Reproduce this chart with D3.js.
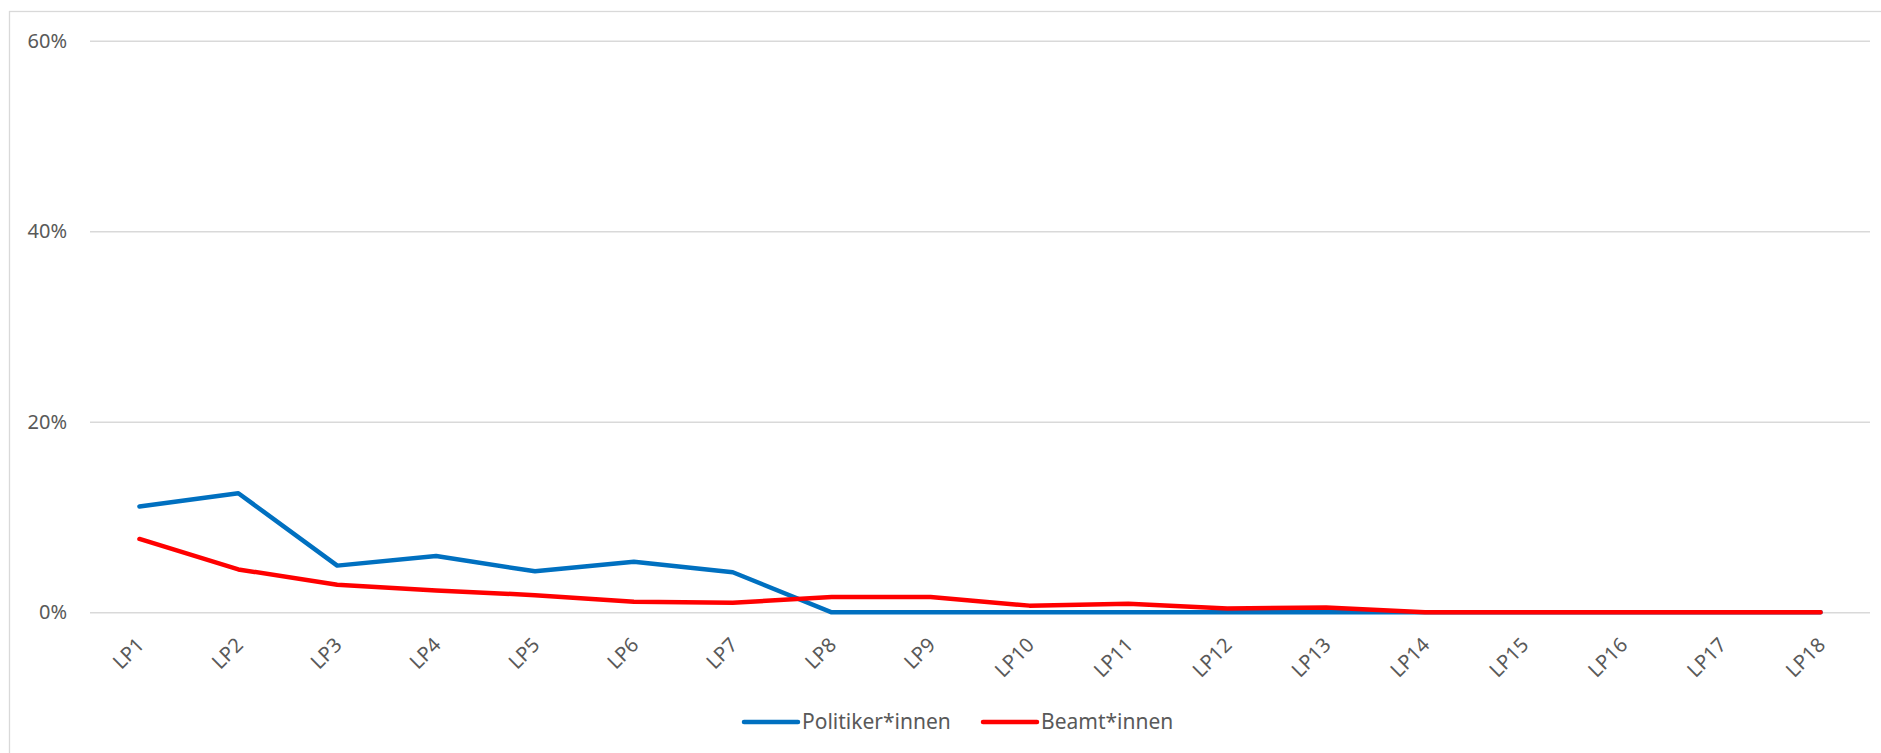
<!DOCTYPE html>
<html>
<head>
<meta charset="utf-8">
<script src="https://cdn.jsdelivr.net/npm/d3@7"></script>
<style>
  body { margin: 0; background: #ffffff; }
  text { font-family: "Noto Sans", "Open Sans", sans-serif; fill: #595959; }
</style>
</head>
<body>
<div id="chart"></div>
<script>
// categories (legislative periods)
var periods = ["LP1", "LP2", "LP3", "LP4", "LP5", "LP6", "LP7", "LP8", "LP9",
  "LP10", "LP11", "LP12", "LP13", "LP14", "LP15", "LP16", "LP17", "LP18"];

// share per period
var politiker = [0.111, 0.125, 0.049, 0.059, 0.043, 0.053, 0.042, 0, 0,
  0, 0, 0, 0, 0, 0, 0, 0, 0];
var beamt = [0.077, 0.045, 0.029, 0.023, 0.018, 0.011, 0.010, 0.016, 0.016,
  0.007, 0.009, 0.004, 0.005, 0, 0, 0, 0, 0];

var yTicks = [0, 0.2, 0.4, 0.6];
var seriesNames = ["Politiker*innen", "Beamt*innen"];
var seriesColors = ["#0070c0", "#ff0000"];

(function() {
  var width = 1881, height = 753
  var left = 90, right = 1870, top = 40.7, bottom = 612.3

  var svg = d3.select("#chart")
    .append("svg")
    .attr("width", width)
    .attr("height", height)

  // chart area border (only left and top edges visible)
  svg.append("rect")
    .attr("x", 9.5)
    .attr("y", 11.5)
    .attr("width", 1900)
    .attr("height", 800)
    .attr("fill", "none")
    .attr("stroke", "#d9d9d9")
    .attr("stroke-width", 1.3)

  var xPositionScale = d3.scaleBand()
    .domain(periods)
    .range([left, right])

  var yPositionScale = d3.scaleLinear()
    .domain([0, 0.6])
    .range([bottom, top])

  function xMid(d) {
    return xPositionScale(d) + xPositionScale.bandwidth() / 2
  }

  /* gridlines + y labels */
  var yAxis = d3.axisLeft(yPositionScale)
    .tickValues(yTicks)
    .tickFormat(d3.format(".0%"))
    .tickSize(-(right - left))
    .tickPadding(23)

  var yg = svg.append("g")
    .attr("class", "axis y-axis")
    .attr("transform", "translate(" + left + ",0)")
    .call(yAxis)
  yg.select(".domain").remove()
  yg.selectAll("line")
    .attr("stroke", "#d9d9d9")
    .attr("stroke-width", 1.5)
  yg.selectAll("text")
    .attr("font-size", 20)
    .style("fill", "#595959")

  /* x labels, rotated */
  var xAxis = d3.axisBottom(xPositionScale).tickSize(0)
  var xg = svg.append("g")
    .attr("class", "axis x-axis")
    .attr("transform", "translate(0," + bottom + ")")
    .call(xAxis)
  xg.select(".domain").remove()
  xg.selectAll("text")
    .attr("font-size", 20)
    .style("fill", "#595959")
    .attr("text-anchor", "end")
    .attr("x", 0)
    .attr("y", 0)
    .attr("dy", "0.35em")
    .attr("transform", "translate(1,29) rotate(-45)")

  /* lines */
  var series = [politiker, beamt]
  var line = d3.line()
    .x(function(d, i) { return xMid(periods[i]) })
    .y(function(d) { return yPositionScale(d) })

  svg.selectAll(".series")
    .data(series)
    .enter().append("path")
    .attr("class", "series")
    .attr("d", function(d) { return line(d) })
    .attr("fill", "none")
    .attr("stroke", function(d, i) { return seriesColors[i] })
    .attr("stroke-width", 4.5)
    .attr("stroke-linejoin", "round")
    .attr("stroke-linecap", "round")

  /* legend */
  var legendX = [744, 983]
  var legend = svg.selectAll(".legend")
    .data(seriesNames)
    .enter().append("g")
    .attr("class", "legend")
    .attr("transform", function(d, i) { return "translate(" + legendX[i] + ",722)" })

  legend.append("line")
    .attr("x1", 0)
    .attr("x2", 54)
    .attr("stroke", function(d, i) { return seriesColors[i] })
    .attr("stroke-width", 4.5)
    .attr("stroke-linecap", "round")

  legend.append("text")
    .attr("x", 58)
    .attr("dy", "0.35em")
    .attr("font-size", 21)
    .text(function(d) { return d })
})();
</script>
</body>
</html>
